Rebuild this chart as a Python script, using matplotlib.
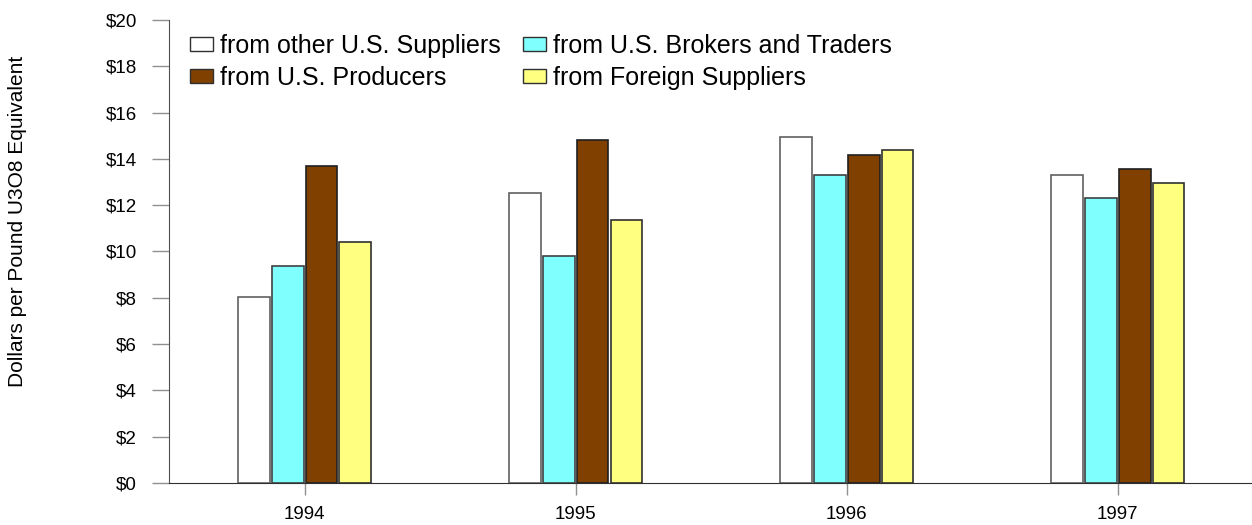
import numpy as np
import matplotlib.pyplot as plt
from matplotlib.patches import Patch

# Data
years = ['1994', '1995', '1996', '1997']
other_us = [8.02, 12.54, 14.95, 13.32]
brokers = [9.36, 9.79, 13.30, 12.30]
producers = [13.70, 14.80, 14.18, 13.55]
foreign = [10.41, 11.36, 14.40, 12.94]

labels = ['from other U.S. Suppliers', 'from U.S. Brokers and Traders',
          'from U.S. Producers', 'from Foreign Suppliers']
colors = ['#FFFFFF', '#80FFFF', '#804000', '#FFFF80']
edges = ['#606060', '#404040', '#202020', '#303030']
yticks = np.arange(0, 21, 2)

plt.rcParams['font.family'] = ['Liberation Sans', 'DejaVu Sans']

fig = plt.figure(figsize=(12.52, 5.25), dpi=100)
ax = fig.add_axes([0.135, 0.08, 0.866, 0.882])

x = np.arange(len(years))
w = 0.125
series = [other_us, brokers, producers, foreign]
for i, (vals, c) in enumerate(zip(series, colors)):
    ax.bar(x + (i - 1.5) * w, vals, width=w * 0.94, color=c,
           edgecolor=edges[i], linewidth=1.2, zorder=3)

ax.set_xlim(-0.5, 3.5)
ax.set_ylim(0, 20)
ax.set_xticks(x)
ax.set_xticklabels(years, fontsize=13.5)
ax.set_yticks(yticks)
ax.set_yticklabels([f'${v}' for v in yticks], fontsize=13.5)
ax.tick_params(axis='y', length=12, width=1, color='#909090', pad=11)
ax.tick_params(axis='x', length=8.6, width=1, color='#909090', pad=8)
for s in ['top', 'right']:
    ax.spines[s].set_visible(False)
ax.spines['left'].set_color('#505050')
ax.spines['bottom'].set_color('#303030')

fig.text(18 / 1252, 0.578, 'Dollars per Pound U3O8 Equivalent',
         rotation=90, va='center', ha='center', fontsize=15)

# legend: column-major order
order = [0, 2, 1, 3]
handles = [Patch(facecolor=colors[i], edgecolor='#303030', linewidth=1.0) for i in order]
ax.legend(handles, [labels[i] for i in order], ncol=2, frameon=False,
          loc='upper left', bbox_to_anchor=(190 / 1252, 1 - 34 / 525),
          bbox_transform=fig.transFigure, borderpad=0, borderaxespad=0,
          fontsize=18, handlelength=0.92, handleheight=0.48,
          handletextpad=0.28, columnspacing=0.9, labelspacing=0.32)

fig.savefig('out.png', dpi=100)
